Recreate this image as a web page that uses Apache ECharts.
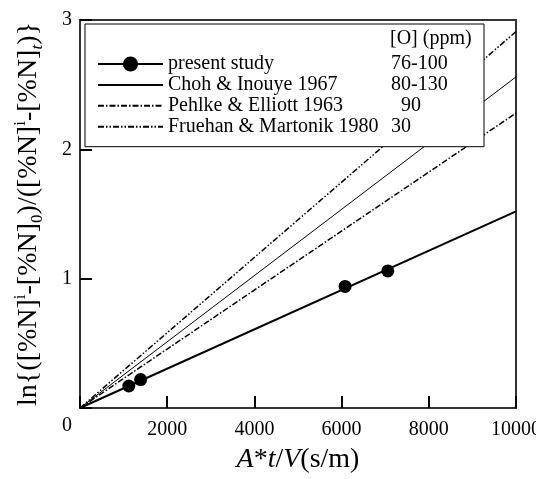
<!DOCTYPE html>
<html>
<head>
<meta charset="utf-8">
<script src="https://cdn.jsdelivr.net/npm/echarts@6/dist/echarts.min.js"></script>
<style>html,body{margin:0;padding:0;background:#fff;}#c{width:536px;height:479px;}</style>
</head>
<body>
<div id="c"></div>
<script>
const FONT = '"Liberation Serif","Times New Roman",serif';
const xTicks = [0, 2000, 4000, 6000, 8000, 10000];
const yTicks = [0, 1, 2, 3];
const seriesNames = ['present study', 'Choh & Inouye 1967', 'Pehlke & Elliott 1963', 'Fruehan & Martonik 1980'];
const oxygenPpm = ['76-100', '80-130', '  90', '30'];
const legendHeader = '[O] (ppm)';
// measured points (present study)
const presentX = [1120, 1390, 6080, 7060];
const presentY = [0.17, 0.22, 0.94, 1.06];
// fitted lines: values at x = 0 and x = 10000
const lineX = [0, 10000];
const presentFit = [0, 1.52];
const chohFit = [0, 2.56];
const pehlkeFit = [0, 2.28];
const fruehanFit = [0, 2.91];

const pair = (xs, ys) => xs.map((x, i) => [x, ys[i]]);

const chart = echarts.init(document.getElementById('c'), null, {renderer: 'canvas'});
chart.setOption({
  animation: false,
  backgroundColor: '#fff',
  grid: {left: 80, right: 20, top: 20, bottom: 71, containLabel: false, outerBoundsMode: 'none',
    show: true, borderColor: '#333', borderWidth: 2, backgroundColor: 'transparent'},
  xAxis: {
    type: 'value', min: xTicks[0], max: xTicks[xTicks.length - 1], interval: 2000,
    axisLine: {show: true, lineStyle: {color: '#333', width: 2}},
    axisTick: {show: true, inside: true, length: 12, lineStyle: {color: '#000', width: 2}},
    splitLine: {show: false},
    axisLabel: {margin: 12, color: '#000', fontFamily: FONT, fontSize: 20,
      formatter: v => v === 0 ? '' : String(v)},
    name: '{i|A}*{i|t}/{i|V}(s/m)', nameLocation: 'middle', nameGap: 38,
    nameTextStyle: {color: '#000', fontFamily: FONT, fontSize: 28,
      rich: {i: {fontStyle: 'italic', fontFamily: FONT, fontSize: 28, color: '#000'}}}
  },
  yAxis: {
    type: 'value', min: yTicks[0], max: yTicks[yTicks.length - 1], interval: 1,
    axisLine: {show: true, lineStyle: {color: '#333', width: 2}},
    axisTick: {show: true, inside: true, length: 12, lineStyle: {color: '#000', width: 2}},
    splitLine: {show: false},
    axisLabel: {margin: 8, color: '#000', fontFamily: FONT, fontSize: 20,
      formatter: v => v === 0 ? '{o|0}' : String(v),
      rich: {o: {padding: [36, 0, 0, 0], fontFamily: FONT, fontSize: 20, color: '#000'}}},
    name: 'ln{([%N]{sup|i}-[%N]{sub|0})/([%N]{sup|i}-[%N]{subi|t})}',
    nameLocation: 'middle', nameGap: 34, nameRotate: 90,
    nameTextStyle: {color: '#000', fontFamily: FONT, fontSize: 28, lineHeight: 34,
      rich: {
        sup: {fontFamily: FONT, fontSize: 17, lineHeight: 17, verticalAlign: 'top', color: '#000'},
        sub: {fontFamily: FONT, fontSize: 17, lineHeight: 17, verticalAlign: 'bottom', color: '#000'},
        subi: {fontFamily: FONT, fontSize: 17, lineHeight: 17, verticalAlign: 'bottom', fontStyle: 'italic', color: '#000'}
      }}
  },
  legend: {
    data: seriesNames.map((n, i) => i === 0
      ? {name: n, itemStyle: {color: '#000', opacity: 1}}
      : {name: n, itemStyle: {opacity: 0, color: 'transparent', borderWidth: 0}}),
    orient: 'vertical', left: 85, top: 24,
    padding: [30, 8, 10, 12],
    itemGap: 0.9, itemWidth: 65, itemHeight: 19,
    borderColor: '#000', borderWidth: 1, backgroundColor: '#fff',
    selectedMode: false,
    formatter: name => '{n|' + name + '}{p|' + oxygenPpm[seriesNames.indexOf(name)] + '}',
    textStyle: {color: '#000', fontFamily: FONT, fontSize: 20, lineHeight: 20,
      rich: {
        n: {width: 223, fontFamily: FONT, fontSize: 20, lineHeight: 20, color: '#000'},
        p: {width: 85, fontFamily: FONT, fontSize: 20, lineHeight: 20, color: '#000'}
      }}
  },
  graphic: [{
    type: 'text', left: 390, top: 29, z: 100,
    style: {text: legendHeader, fill: '#000', font: '20px ' + FONT}
  }],
  series: [
    {name: seriesNames[0], type: 'line', data: pair(lineX, presentFit), showSymbol: false,
     symbol: 'circle', symbolSize: 13, itemStyle: {color: '#000', opacity: 1},
     lineStyle: {color: '#000', width: 2}, z: 3},
    {name: seriesNames[0], type: 'scatter', data: pair(presentX, presentY),
     symbol: 'circle', symbolSize: 13, itemStyle: {color: '#000', opacity: 1}, z: 4},
    {name: seriesNames[1], type: 'line', data: pair(lineX, chohFit), showSymbol: false, symbol: 'none',
     itemStyle: {color: '#000'}, lineStyle: {color: '#000', width: 1}},
    {name: seriesNames[2], type: 'line', data: pair(lineX, pehlkeFit), showSymbol: false, symbol: 'none',
     itemStyle: {color: '#000'}, lineStyle: {color: '#000', width: 1.5, type: [6, 2, 1.5, 2]}},
    {name: seriesNames[3], type: 'line', data: pair(lineX, fruehanFit), showSymbol: false, symbol: 'none',
     itemStyle: {color: '#000'}, lineStyle: {color: '#000', width: 1.5, type: [6, 2, 1.5, 2, 1.5, 2]}}
  ]
});
</script>
</body>
</html>
